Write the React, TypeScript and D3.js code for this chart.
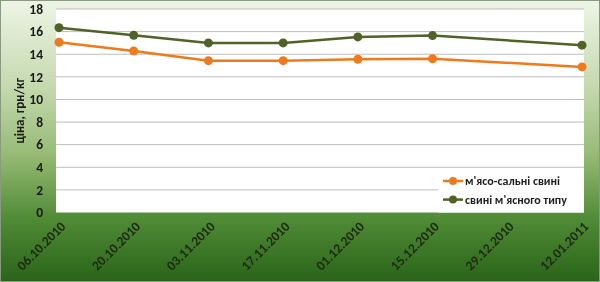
import React from "react";
import * as d3 from "d3";

const categories = ["06.10.2010", "20.10.2010", "03.11.2010", "17.11.2010", "01.12.2010", "15.12.2010", "29.12.2010", "12.01.2011"];
const meatLard: (number | null)[] = [15.06, 14.29, 13.43, 13.43, 13.56, 13.6, null, 12.88];
const meatType: (number | null)[] = [16.35, 15.68, 15.0, 15.0, 15.53, 15.65, null, 14.8];
const seriesNames = ["м'ясо-сальні свині", "свині м'ясного типу"];
const yTicks = [0, 2, 4, 6, 8, 10, 12, 14, 16, 18];
const yTitle = "ціна, грн/кг";

const W = 600, H = 282;
const plot = { l: 56, r: 584, t: 9, b: 212.5 };

export default function App() {
  const x = d3.scalePoint<string>().domain(categories).range([59, 582]);
  const y = d3.scaleLinear().domain([0, 18]).range([plot.b, plot.t]);
  const colors = ["#ee7a1c", "#4f6228"];
  const series = [meatLard, meatType];
  const font = "Calibri, Carlito, 'Liberation Sans', 'DejaVu Sans', sans-serif";
  const line = d3
    .line<{ c: string; v: number }>()
    .x((d) => x(d.c)!)
    .y((d) => y(d.v));

  return (
    <svg width={W} height={H} style={{ position: "fixed", left: 0, top: 0 }} fontFamily={font}>
      <defs>
        <linearGradient id="bg" x1="0" y1="0" x2="0" y2="1">
          <stop offset="0" stopColor="#eef4e6" />
          <stop offset="0.3" stopColor="#c6dab0" />
          <stop offset="0.55" stopColor="#96ba74" />
          <stop offset="0.78" stopColor="#4f8a35" />
          <stop offset="1" stopColor="#2a6419" />
        </linearGradient>
      </defs>
      <rect x={0.5} y={0.5} width={W - 1} height={H - 1} fill="url(#bg)" stroke="#8a9a80" />
      <rect x={plot.l} y={plot.t} width={plot.r - plot.l} height={plot.b - plot.t} fill="#ffffff" />
      {yTicks.map((t) => (
        <g key={t}>
          {t > 0 && (
            <line x1={plot.l} x2={plot.r} y1={y(t)} y2={y(t)} stroke="#bdbdbd" strokeWidth={1} />
          )}
          <text x={43} y={y(t)} dy="0.35em" textAnchor="end" fontSize={13.5} fontWeight="bold" fill="#1a1a1a">
            {t}
          </text>
        </g>
      ))}
      <text
        transform={`translate(19,${(plot.t + plot.b) / 2}) rotate(-90)`}
        textAnchor="middle"
        dy="0.35em"
        fontSize={13}
        fontWeight="bold"
        fill="#1a1a1a"
      >
        {yTitle}
      </text>
      {categories.map((c) => (
        <text
          key={c}
          transform={`translate(${x(c)! + 4},${224}) rotate(-45)`}
          textAnchor="end"
          dy="0.35em"
          fontSize={13.5}
          fontWeight="bold"
          fill="#1e2a14"
        >
          {c}
        </text>
      ))}
      {series.map((s, i) => {
        const pts = categories
          .map((c, j) => ({ c, v: s[j] }))
          .filter((d) => d.v !== null) as { c: string; v: number }[];
        return (
          <g key={i}>
            <path d={line(pts)!} fill="none" stroke={colors[i]} strokeWidth={2.5} />
            {pts.map((d) => (
              <circle key={d.c} cx={x(d.c)} cy={y(d.v)} r={4.5} fill={colors[i]} />
            ))}
          </g>
        );
      })}
      <g>
        <rect x={438} y={170} width={plot.r - 438} height={plot.b - 170} fill="#ffffff" />
        {seriesNames.map((n, i) => (
          <g key={n} transform={`translate(443,${181 + i * 18.6})`}>
            <line x1={0} x2={20} y1={0} y2={0} stroke={colors[i]} strokeWidth={2.5} />
            <circle cx={10} cy={0} r={4} fill={colors[i]} />
            <text x={22} dy="0.35em" fontSize={12} fontWeight="bold" fill="#1e1e1e">
              {n}
            </text>
          </g>
        ))}
      </g>
    </svg>
  );
}
